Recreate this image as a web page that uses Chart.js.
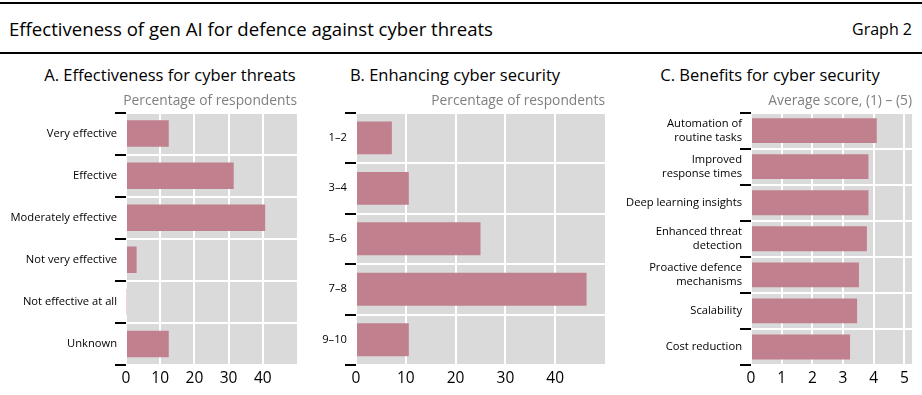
<!DOCTYPE html>
<html>
<head>
<meta charset="utf-8">
<script src="https://cdn.jsdelivr.net/npm/chart.js@4.4.1/dist/chart.umd.min.js"></script>
<style>
  body { margin: 0; background: #fff; font-family: "Open Sans", sans-serif; color: #000; }
  #page { position: relative; width: 922px; height: 395px; overflow: hidden; }
  .rule { position: absolute; left: 0; width: 922px; background: #000; }
  .title { position: absolute; left: 9px; top: 16px; font-size: 18.6px; white-space: nowrap; }
  .graph { position: absolute; right: 10px; top: 18px; font-size: 16px; }
  .panel { position: absolute; top: 63px; font-size: 16.5px; white-space: nowrap; transform: translateX(-50%); }
  .box { position: absolute; top: 88px; height: 307px; }
</style>
</head>
<body>
<div id="page">
  <div class="rule" style="top:2px;height:2px"></div>
  <div class="title">Effectiveness of gen AI for defence against cyber threats</div>
  <div class="graph">Graph 2</div>
  <div class="rule" style="top:52px;height:2px"></div>
  <div class="panel" style="left:170px">A. Effectiveness for cyber threats</div>
  <div class="panel" style="left:455px">B. Enhancing cyber security</div>
  <div class="panel" style="left:770px">C. Benefits for cyber security</div>
  <div class="box" style="left:0;width:305px"><canvas id="chartA"></canvas></div>
  <div class="box" style="left:305px;width:310px"><canvas id="chartB"></canvas></div>
  <div class="box" style="left:615px;width:307px"><canvas id="chartC"></canvas></div>
</div>
<script>
// Panel A: effectiveness for cyber threats (percentage of respondents)
const catsA = ["Very effective", "Effective", "Moderately effective", "Not very effective", "Not effective at all", "Unknown"];
const valsA = [12.5, 31.5, 40.7, 3.1, 0.2, 12.5];
const ticksA = [0, 10, 20, 30, 40];

// Panel B: enhancing cyber security (percentage of respondents)
const catsB = ["1–2", "3–4", "5–6", "7–8", "9–10"];
const valsB = [7.2, 10.6, 25.0, 46.3, 10.6];
const ticksB = [0, 10, 20, 30, 40];

// Panel C: benefits for cyber security (average score 1-5)
const catsC = [["Automation of", "routine tasks"], ["Improved", "response times"], "Deep learning insights",
  ["Enhanced threat", "detection"], ["Proactive defence", "mechanisms"], "Scalability", "Cost reduction"];
const valsC = [4.10, 3.83, 3.83, 3.78, 3.52, 3.46, 3.23];
const ticksC = [0, 1, 2, 3, 4, 5];

const barColor = "#c0808e";
const plotBg = "#dadada";

// grey plot background
const plotBackground = {
    id: "plotBackground",
    beforeDraw(chart) {
        const a = chart.chartArea;
        const ctx = chart.ctx;
        ctx.save();
        ctx.fillStyle = plotBg;
        ctx.fillRect(a.left, a.top, a.right - a.left, a.bottom - a.top);
        ctx.restore();
    }
};

function makeChart(id, cats, vals, ticks, opt) {
    return new Chart(document.getElementById(id), {
        type: "bar",
        data: {
            labels: cats,
            datasets: [{
                data: vals,
                backgroundColor: barColor,
                categoryPercentage: opt.barPct,
                barPercentage: 1
            }]
        },
        options: {
            indexAxis: "y",
            responsive: true,
            maintainAspectRatio: false,
            animation: false,
            layout: { padding: { right: opt.padRight, left: 0, top: 0, bottom: 0 } },
            scales: {
                x: {
                    min: 0,
                    max: opt.max,
                    afterBuildTicks: (scale) => { scale.ticks = ticks.map(v => ({ value: v })); },
                    afterFit: (scale) => { scale.height = 30; },
                    border: { display: false },
                    grid: { color: "#ffffff", lineWidth: 2, drawTicks: false },
                    ticks: {
                        color: "#000",
                        padding: 4,
                        font: { family: "Open Sans", size: 15.5 }
                    }
                },
                y: {
                    afterFit: (scale) => { scale.width = opt.yWidth; },
                    border: { display: false },
                    grid: {
                        color: "#ffffff",
                        tickColor: "#000",
                        lineWidth: 2,
                        tickLength: 11,
                        offset: true
                    },
                    ticks: {
                        color: "#000",
                        padding: -2,
                        font: { family: "Open Sans", size: 11.2 }
                    }
                }
            },
            plugins: {
                legend: { display: false },
                tooltip: { enabled: false },
                title: {
                    display: true,
                    text: opt.axisTitle,
                    align: "end",
                    color: "#7f7f7f",
                    padding: { top: 5, bottom: 3 },
                    font: { family: "Open Sans", size: 13.8, weight: "normal" }
                }
            }
        },
        plugins: [plotBackground]
    });
}

makeChart("chartA", catsA, valsA, ticksA, {
    max: 50, yWidth: 126, padRight: 8, barPct: 0.63, axisTitle: "Percentage of respondents"
});
makeChart("chartB", catsB, valsB, ticksB, {
    max: 50, yWidth: 51, padRight: 10, barPct: 0.65, axisTitle: "Percentage of respondents"
});
makeChart("chartC", catsC, valsC, ticksC, {
    max: 5.25, yWidth: 136, padRight: 10, barPct: 0.69, axisTitle: "Average score, (1) – (5)"
});
</script>
</body>
</html>
